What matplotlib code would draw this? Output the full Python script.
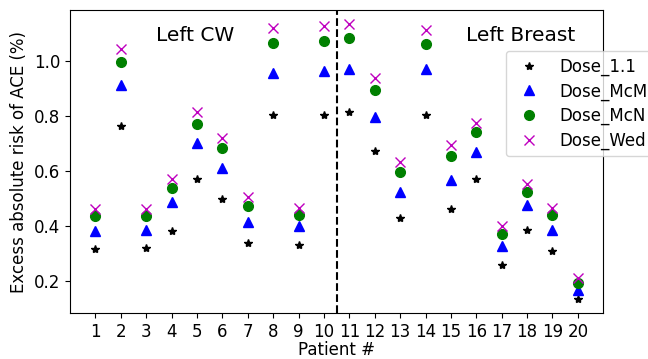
import matplotlib
matplotlib.use("Agg")
import matplotlib.pyplot as plt
import numpy as np

patients = np.arange(1, 21)
dose_11 = [0.317, 0.761, 0.319, 0.382, 0.570, 0.500, 0.340, 0.802, 0.332, 0.802,
           0.812, 0.674, 0.430, 0.803, 0.461, 0.570, 0.260, 0.387, 0.311, 0.135]
dose_mcm = [0.383, 0.911, 0.387, 0.488, 0.703, 0.609, 0.414, 0.954, 0.399, 0.963,
            0.971, 0.797, 0.522, 0.969, 0.568, 0.667, 0.327, 0.476, 0.387, 0.167]
dose_mcn = [0.438, 0.996, 0.438, 0.538, 0.771, 0.684, 0.473, 1.065, 0.441, 1.070,
            1.080, 0.894, 0.596, 1.060, 0.654, 0.741, 0.373, 0.525, 0.439, 0.195]
dose_wed = [0.463, 1.042, 0.463, 0.572, 0.812, 0.721, 0.505, 1.118, 0.465, 1.125,
            1.133, 0.937, 0.631, 1.111, 0.694, 0.773, 0.399, 0.554, 0.464, 0.211]

fig = plt.figure(figsize=(6.48, 3.59), dpi=100)
ax = fig.add_axes([0.108, 0.128, 0.823, 0.844])

ax.plot(patients, dose_11, "k*", ls="none", label="Dose_1.1")
ax.plot(patients, dose_mcm, "b^", ls="none", markersize=7, label="Dose_McM")
ax.plot(patients, dose_mcn, "go", ls="none", markersize=7, label="Dose_McN")
ax.plot(patients, dose_wed, "mx", ls="none", markersize=7, label="Dose_Wed")

ax.axvline(10.5, color="black", ls="--", lw=1.5)
ax.set_xlim(0, 21)
ax.set_xticks(patients)
ax.tick_params(labelsize=12)
ax.set_xlabel("Patient #", fontsize=12, labelpad=0.5)
ax.set_ylabel("Excess absolute risk of ACE (%)", fontsize=12)

ax.text(3.4, 1.069, "Left CW", fontsize=14.5)
ax.text(15.6, 1.069, "Left Breast", fontsize=14.5)

ax.legend(loc="upper left", bbox_to_anchor=(0.781, 0.858),
          bbox_transform=fig.transFigure, borderaxespad=0,
          labelspacing=0.38, fontsize=12)

fig.savefig("out.png", dpi=100)
